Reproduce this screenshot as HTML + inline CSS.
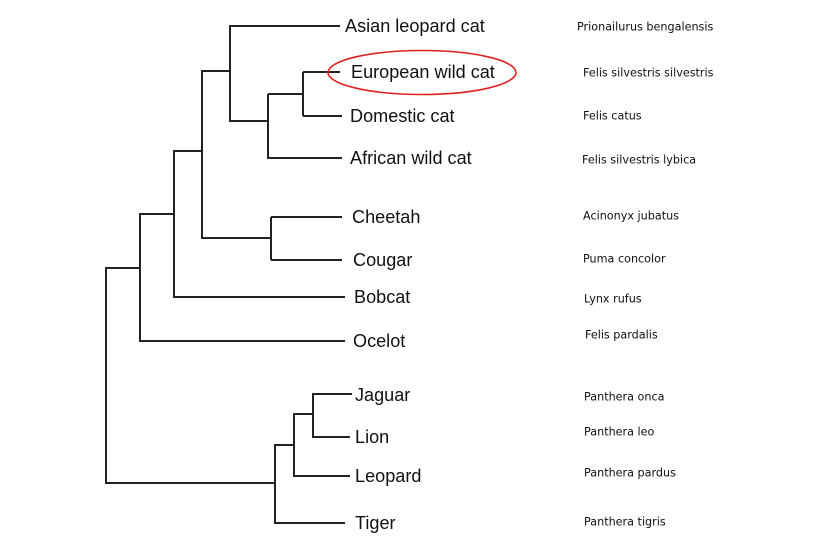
<!DOCTYPE html>
<html><head><meta charset="utf-8"><style>body{margin:0;background:#fff}</style></head><body>
<svg width="817" height="550" xmlns="http://www.w3.org/2000/svg" style="display:block">
<g stroke="#222" stroke-width="2" fill="none">
<path d="M340 26H230V121H268M303 72V116M340 72H303M268 94H303M342 116H303M268 94V158H342"/>
<path d="M230 71H202V238H271M271 217V260M342 217H271M342 260H271"/>
<path d="M202 151H174V297H345M174 214H140V341H345M140 268H106V483H275"/>
<path d="M352 394H313V437H350M313 414H294V476H350M294 445H275V523H345"/>
</g>
<ellipse cx="422" cy="72.5" rx="94" ry="22" fill="none" stroke="#e02020" stroke-width="1.6"/>
<g font-family="Liberation Sans, sans-serif" font-size="18.1" fill="#111" dominant-baseline="central">
<text x="345" y="26">Asian leopard cat</text>
<text x="351" y="72">European wild cat</text>
<text x="350" y="116">Domestic cat</text>
<text x="350" y="158">African wild cat</text>
<text x="352" y="217">Cheetah</text>
<text x="353" y="260">Cougar</text>
<text x="354" y="297">Bobcat</text>
<text x="353" y="341">Ocelot</text>
<text x="355" y="395">Jaguar</text>
<text x="355" y="437">Lion</text>
<text x="355" y="476">Leopard</text>
<text x="355" y="523">Tiger</text>
</g>
<g font-family="DejaVu Sans, sans-serif" font-size="11.2" fill="#111" dominant-baseline="central">
<text x="577" y="27">Prionailurus bengalensis</text>
<text x="583" y="73">Felis silvestris silvestris</text>
<text x="583" y="116">Felis catus</text>
<text x="582" y="160">Felis silvestris lybica</text>
<text x="583" y="216">Acinonyx jubatus</text>
<text x="583" y="259">Puma concolor</text>
<text x="584" y="299">Lynx rufus</text>
<text x="585" y="335">Felis pardalis</text>
<text x="584" y="397">Panthera onca</text>
<text x="584" y="432">Panthera leo</text>
<text x="584" y="473">Panthera pardus</text>
<text x="584" y="522">Panthera tigris</text>
</g>
</svg>
</body></html>
